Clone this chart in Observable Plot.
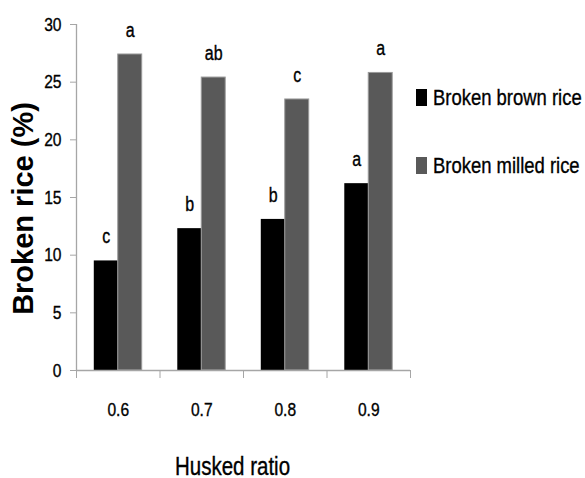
<!DOCTYPE html>
<html>
<head>
<meta charset="utf-8">
<script src="https://cdn.jsdelivr.net/npm/d3@7"></script>
<script src="https://cdn.jsdelivr.net/npm/@observablehq/plot@0.6"></script>
<style>
  html, body { margin: 0; padding: 0; background: #fff; }
  #wrap { position: relative; width: 585px; height: 478px; }
  #legend { position: absolute; left: 416px; top: 85px; font-family: "Liberation Sans", Arial, sans-serif; font-size: 22.5px; color: #000; -webkit-text-stroke: 0.35px #000; }
  .item { display: flex; align-items: center; height: 25px; margin-bottom: 43px; white-space: nowrap; }
  .sw { width: 11px; height: 17px; margin-right: 6px; flex: none; }
  .lbl { display: inline-block; transform: scaleX(0.82); transform-origin: left center; }
</style>
</head>
<body>
<div id="wrap"></div>
<script>
const ratios = [0.6, 0.7, 0.8, 0.9];
const brown = [9.5, 12.3, 13.1, 16.2];
const milled = [27.4, 25.4, 23.5, 25.8];
const brownLetters = ["c", "b", "b", "a"];
const milledLetters = ["a", "ab", "c", "a"];
const boundaries = [0.55, 0.65, 0.75, 0.85, 0.95];
const yTicks = [0, 5, 10, 15, 20, 25, 30];
const seriesNames = ["Broken brown rice", "Broken milled rice"];
const seriesColors = ["#000000", "#595959"];

const barW = 0.0287; // bar width in data units of the x scale
const rows = ratios.flatMap((r, i) => [
  {ratio: r, series: seriesNames[0], value: brown[i], letter: brownLetters[i], x1: r - barW, x2: r},
  {ratio: r, series: seriesNames[1], value: milled[i], letter: milledLetters[i], x1: r, x2: r + barW}
]);

const font = '"Liberation Sans", Arial, sans-serif';
const axisGray = "#a6a6a6";

const chart = Plot.plot({
  width: 585,
  height: 478,
  marginLeft: 76,
  marginRight: 175,
  marginTop: 24,
  marginBottom: 108,
  style: {fontFamily: font, background: "white", overflow: "visible"},
  x: {type: "linear", domain: [0.55, 0.95], axis: null},
  y: {domain: [0, 30], axis: null},
  color: {domain: seriesNames, range: seriesColors},
  marks: [
    Plot.rectY(rows, {x1: "x1", x2: "x2", y: "value", fill: "series",
      stroke: d => d.series === seriesNames[1] ? "#9a9a9a" : "none", strokeWidth: 1}),
    Plot.ruleX([0.55], {y1: 0, y2: 30, stroke: axisGray, strokeWidth: 1.3}),
    Plot.ruleY([0], {stroke: axisGray, strokeWidth: 1.3}),
    Plot.axisY({ticks: yTicks, tickSize: 6, tickPadding: 9, fontSize: 19, stroke: axisGray, fill: "black", label: null}),
    Plot.axisX({ticks: boundaries, tickSize: 8, tickFormat: () => "", stroke: axisGray, label: null}),
    Plot.axisX({ticks: ratios, tickSize: 0, tickPadding: 32, tickFormat: d3.format(".1f"), fontSize: 19, fill: "black", label: null}),
    Plot.text(rows, {x: d => (d.x1 + d.x2) / 2, y: "value", text: "letter", dy: -17.5, lineAnchor: "bottom", fontSize: 19.5, fill: "black"}),
    Plot.text(["Husked ratio"], {frameAnchor: "bottom", dx: -11, dy: 104, lineAnchor: "bottom", fontSize: 25, fill: "black"}),
    Plot.text(["Broken rice (%)"], {frameAnchor: "left", dx: -53, dy: 11, rotate: -90, textAnchor: "middle", lineAnchor: "middle", fontSize: 29, fontWeight: "bold", fill: "black", className: "ytitle"})
  ]
});

const wrap = document.getElementById("wrap");
wrap.appendChild(chart);

// narrow and slightly darken the regular text like the condensed face of the reference
chart.querySelectorAll("text").forEach(t => {
  if (t.closest(".ytitle")) return;
  const len = t.getComputedTextLength();
  if (len > 0) {
    t.setAttribute("textLength", (len * 0.82).toFixed(2));
    t.setAttribute("lengthAdjust", "spacingAndGlyphs");
    t.style.stroke = "#000";
    t.style.strokeWidth = "0.35px";
  }
});

const legend = document.createElement("div");
legend.id = "legend";
seriesNames.forEach((name, i) => {
  const item = document.createElement("div");
  item.className = "item";
  const sw = document.createElement("span");
  sw.className = "sw";
  sw.style.background = seriesColors[i];
  const label = document.createElement("span");
  label.className = "lbl";
  label.textContent = name;
  item.appendChild(sw);
  item.appendChild(label);
  legend.appendChild(item);
});
wrap.appendChild(legend);
</script>
</body>
</html>
